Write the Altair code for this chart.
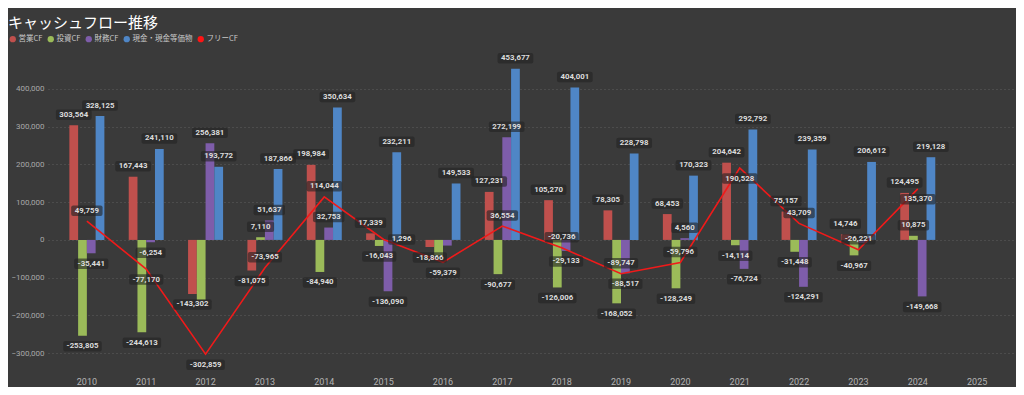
import altair as alt
import pandas as pd

# ---------------- data ----------------
years = [str(y) for y in range(2010, 2026)]
data_years = years[:15]
series = ["営業CF", "投資CF", "財務CF", "現金・現金等価物"]
legend_names = series + ["フリーCF"]
colors = ["#C0504D", "#9BBB59", "#7E5DAA", "#4F86C6", "#FF1414"]

operating = [303564, 167443, -143302, -81075, 198984, 17339, -18866, 127231,
             105270, 78305, 68453, 204642, 75157, 14746, 124495]
investing = [-253805, -244613, -159557, 7110, -84940, -16043, -40513, -90677,
             -126006, -168052, -128249, -14114, -31448, -40967, 10875]
financing = [-35441, -6254, 256381, 51637, 32753, -136090, -15000, 272199,
             -29133, -88517, 4560, -76724, -124291, -8000, -149668]
cash = [328125, 241110, 193772, 187866, 350634, 232211, 149533, 453677,
        404001, 228798, 170323, 292792, 239359, 206612, 219128]
free_cf = [49759, -77170, -302859, -73965, 114044, 1296, -59379, 36554,
           -20736, -89747, -59796, 190528, 43709, -26221, 135370]

# labels not shown in the original (overlapping)
hidden = {("投資CF", "2012"), ("投資CF", "2016"), ("財務CF", "2016"), ("財務CF", "2023")}
# placement of free-CF labels that differ from "above"
free_place = {"2011": "below", "2012": "below", "2016": "below",
              "2021": "below", "2024": "below", "2015": "right"}

# ---------------- helpers ----------------
OFF = 10.5      # label distance from the bar end (px)
BOX_H = 10.5    # label box height (px)
R = 10.0        # symbol scale (size 400 -> unit = 10px)


def fmt(v):
    return f"{v:,}"


def text_w(s):
    w = 0.0
    for ch in s:
        if ch.isdigit():
            w += 4.3
        elif ch == ",":
            w += 1.9
        else:
            w += 2.8
    return w


def box_path(label, dx, dy):
    hw = (text_w(label) + 8) / 2 / R
    hh = BOX_H / 2 / R
    cx = dx / R
    cy = dy / R
    r = 0.2
    x0, x1 = cx - hw, cx + hw
    y0, y1 = cy - hh, cy + hh
    return (f"M{x0 + r:.3f},{y0:.3f}L{x1 - r:.3f},{y0:.3f}Q{x1:.3f},{y0:.3f} {x1:.3f},{y0 + r:.3f}"
            f"L{x1:.3f},{y1 - r:.3f}Q{x1:.3f},{y1:.3f} {x1 - r:.3f},{y1:.3f}"
            f"L{x0 + r:.3f},{y1:.3f}Q{x0:.3f},{y1:.3f} {x0:.3f},{y1 - r:.3f}"
            f"L{x0:.3f},{y0 + r:.3f}Q{x0:.3f},{y0:.3f} {x0 + r:.3f},{y0:.3f}Z")


rows = []
for name, vals in zip(series, [operating, investing, financing, cash]):
    for yr, v in zip(data_years, vals):
        lab = fmt(v)
        dy = -OFF if v >= 0 else OFF
        rows.append({"year": yr, "series": name, "value": v, "label": lab,
                     "show": (name, yr) not in hidden,
                     "pos": "above" if v >= 0 else "below",
                     "path": box_path(lab, 0, dy)})
bars_df = pd.DataFrame(rows)

frows = []
for yr, v in zip(data_years, free_cf):
    lab = fmt(v)
    place = free_place.get(yr, "above")
    dx, dy = {"above": (0, -OFF), "below": (0, OFF), "right": (18, 0)}[place]
    frows.append({"year": yr, "series": "フリーCF", "value": v, "label": lab,
                  "place": place, "path": box_path(lab, dx, dy)})
free_df = pd.DataFrame(frows)

# ---------------- encodings ----------------
FONT = "Roboto"
PAD_L = 40
x_enc = alt.X("year:N", scale=alt.Scale(domain=years, paddingInner=0.41, paddingOuter=0.36),
              axis=alt.Axis(title=None, labelAngle=0, ticks=False, domain=False, grid=False,
                            labelColor="#b4b4b4", labelFontSize=9, labelFont=FONT,
                            labelPadding=5))
y_enc = alt.Y("value:Q", scale=alt.Scale(domain=[-350000, 482000], nice=False, zero=False),
              axis=alt.Axis(title=None, values=[-300000, -200000, -100000, 0, 100000,
                                                200000, 300000, 400000],
                            format=",.0f", ticks=False, domain=False, grid=True,
                            gridColor="#5e5e5e", gridDash=[1, 3], gridWidth=1,
                            labelColor="#a8a8a8", labelFontSize=8, labelFont=FONT,
                            labelPadding=4))
xoff = alt.XOffset("series:N", scale=alt.Scale(domain=series, paddingInner=0, paddingOuter=0))

bars = alt.Chart(bars_df).mark_bar().encode(
    x=x_enc, y=y_enc, xOffset=xoff,
    color=alt.Color("series:N", scale=alt.Scale(domain=legend_names, range=colors),
                    legend=alt.Legend(title=None, orient="none", legendX=-PAD_L + 1, legendY=-23,
                                      direction="horizontal", columns=5,
                                      symbolType="circle", symbolSize=40,
                                      symbolStrokeWidth=0,
                                      labelFontSize=7.5, labelColor="#c8c8c8",
                                      labelFont="Noto Sans CJK JP",
                                      columnPadding=4, labelOffset=2, padding=0))
)

line = alt.Chart(free_df).mark_line(color="#F01A1A", strokeWidth=1.6).encode(
    x=alt.X("year:N"), y=alt.Y("value:Q"))

box_style = dict(filled=True, size=400, color="#232323", opacity=0.62, strokeWidth=0)
bar_boxes = alt.Chart(bars_df).transform_filter("datum.show").mark_point(**box_style).encode(
    x="year:N", y="value:Q", xOffset=xoff, shape=alt.Shape("path:N", scale=None))
free_boxes = alt.Chart(free_df).mark_point(**box_style).encode(
    x="year:N", y="value:Q", shape=alt.Shape("path:N", scale=None))

txt_style = dict(fontSize=7.8, font=FONT, fontWeight="bold", color="#dcdcdc",
                 baseline="middle", align="center")
bar_txt_up = alt.Chart(bars_df).transform_filter(
    "datum.show && datum.pos == 'above'").mark_text(dy=-OFF, **txt_style).encode(
    x="year:N", y="value:Q", xOffset=xoff, text="label:N")
bar_txt_dn = alt.Chart(bars_df).transform_filter(
    "datum.show && datum.pos == 'below'").mark_text(dy=OFF, **txt_style).encode(
    x="year:N", y="value:Q", xOffset=xoff, text="label:N")
free_up = alt.Chart(free_df).transform_filter("datum.place == 'above'").mark_text(
    dy=-OFF, **txt_style).encode(x="year:N", y="value:Q", text="label:N")
free_dn = alt.Chart(free_df).transform_filter("datum.place == 'below'").mark_text(
    dy=OFF, **txt_style).encode(x="year:N", y="value:Q", text="label:N")
free_rt = alt.Chart(free_df).transform_filter("datum.place == 'right'").mark_text(
    dx=18, **txt_style).encode(x="year:N", y="value:Q", text="label:N")

chart = alt.layer(
    bars, line, bar_boxes, free_boxes, bar_txt_up, bar_txt_dn, free_up, free_dn, free_rt
).properties(
    width=1008 - PAD_L, height=314,
    title=alt.TitleParams("キャッシュフロー推移", anchor="start", color="#ffffff",
                          fontSize=15, font="Noto Sans CJK JP", fontWeight="normal",
                          dx=-PAD_L, frame="group"),
    autosize=alt.AutoSizeParams(type="none"),
    padding={"left": PAD_L, "top": 50, "right": 0, "bottom": 15},
    background="#3a3a3a",
).configure_view(stroke=None)

chart.save("out.html", embed_options={"renderer": "svg", "actions": False})
